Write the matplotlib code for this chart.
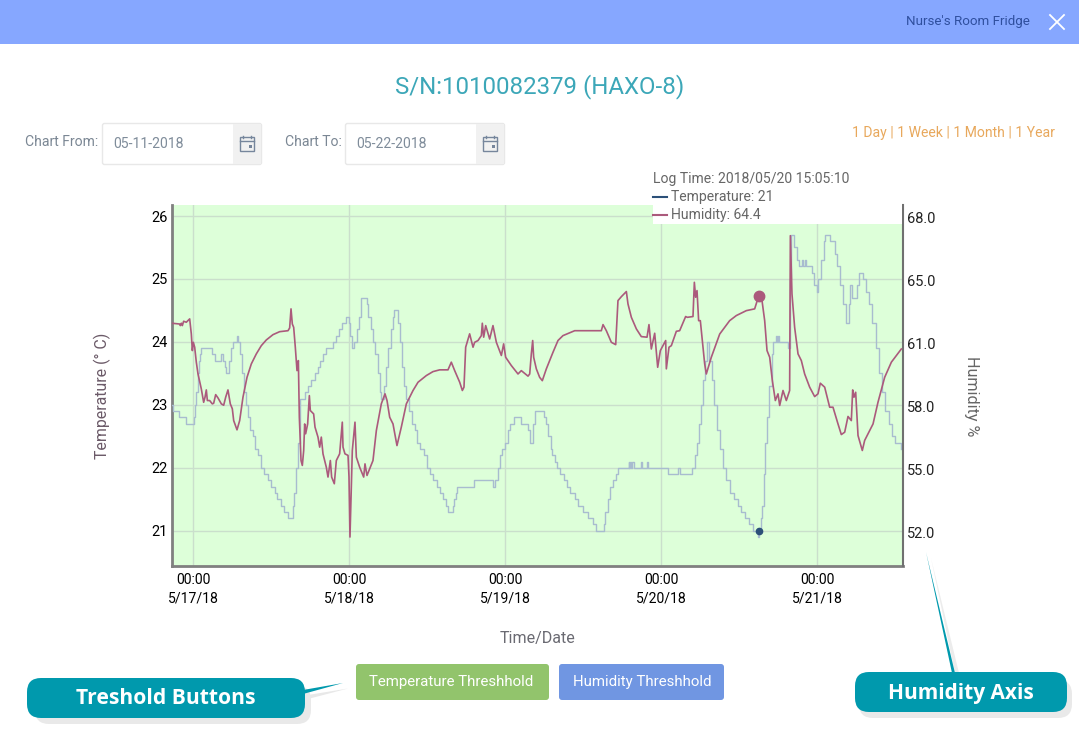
import matplotlib
matplotlib.use("Agg")
import matplotlib.pyplot as plt
from matplotlib.patches import Rectangle, FancyBboxPatch, Polygon
from matplotlib.transforms import ScaledTranslation

plt.rcParams['font.family'] = ['Roboto', 'DejaVu Sans']

# ---------- data (hours since 5/17/18 00:00) ----------
temp_hours = [-3.3,-3.1,-2.2,-1.1,0.1,0.3,0.5,0.7,0.9,1.1,1.3,3.0,3.4,4.3,4.6,4.9,5.1,5.6,5.9,6.2,6.7,6.9,7.2,7.5,7.8,8.1,8.4,8.8,9.2,9.6,10.0,10.5,11.0,11.5,12.0,12.6,13.0,13.5,14.0,14.6,15.4,15.6,15.9,16.2,16.4,16.5,17.3,17.7,18.1,18.8,19.2,19.6,20.0,20.4,21.5,22.0,22.5,23.0,23.5,24.0,24.2,24.4,24.8,25.2,25.6,25.9,26.7,27.0,27.4,27.7,28.0,28.4,28.8,29.0,29.4,29.7,30.0,30.4,30.8,31.0,31.5,31.8,32.1,32.5,32.8,33.3,33.7,34.1,34.5,35.0,35.5,36.0,36.5,37.0,37.5,38.0,38.4,38.9,39.3,40.0,40.2,40.4,40.6,43.3,46.2,46.5,46.9,47.3,47.6,48.0,48.4,48.8,49.4,50.5,51.5,51.8,52.05,52.3,52.6,53.85,54.0,54.3,54.6,55.0,55.3,55.7,56.0,56.5,57.0,57.6,58.0,58.8,59.3,60.0,60.7,61.6,62.0,63.2,63.4,63.8,64.2,64.6,65.0,65.4,67.0,67.1,67.3,67.4,67.6,67.8,68.9,69.0,69.9,70.0,73.0,74.6,74.85,76.7,77.2,77.5,77.8,78.1,78.4,78.7,79.0,79.4,79.8,80.2,80.6,81.0,81.5,82.0,82.6,83.2,83.8,84.3,84.9,85.6,86.2,86.95,87.15,87.4,87.6,87.8,88.0,88.3,88.6,89.0,89.3,89.7,89.85,90.0,90.15,91.5,91.8,91.95,92.5,92.9,93.3,93.7,93.85,94.2,94.3,95.2,95.6,96.0,96.2,96.6,97.0,97.3,98.0,98.8,99.1,99.6,100.0,100.5,100.9,101.1,101.4,102.1,102.4,103.1,103.5,104.0,104.5,105.0,105.5,106.0,106.5,107.0,107.5,108.0,108.9]
temp_values = [23.0,22.9,22.8,22.7,22.8,23.0,23.2,23.5,23.7,23.8,23.9,23.8,23.7,23.8,23.7,23.6,23.5,23.7,23.9,24.0,24.1,24.0,23.8,23.5,23.2,23.0,22.8,22.6,22.5,22.3,22.2,22.0,21.9,21.8,21.7,21.6,21.5,21.4,21.3,21.2,21.4,21.6,22.0,22.4,22.7,23.1,23.2,23.3,23.4,23.5,23.6,23.7,23.8,23.9,24.0,24.1,24.2,24.3,24.4,24.3,24.1,23.9,24.0,24.2,24.4,24.7,24.6,24.4,24.2,24.0,23.8,23.5,23.2,23.1,23.3,23.6,23.9,24.2,24.4,24.5,24.3,24.0,23.6,23.3,23.1,22.9,22.7,22.6,22.4,22.3,22.2,22.0,21.9,21.8,21.7,21.6,21.5,21.4,21.3,21.4,21.5,21.6,21.7,21.8,21.7,21.8,22.0,22.2,22.3,22.4,22.6,22.7,22.8,22.7,22.6,22.4,22.4,22.7,22.9,22.9,22.8,22.7,22.5,22.3,22.2,22.1,22.0,21.9,21.8,21.7,21.6,21.5,21.4,21.3,21.2,21.1,21.0,21.1,21.3,21.5,21.7,21.8,21.9,22.0,22.1,22.0,22.1,22.0,22.1,22.0,22.1,22.0,22.1,22.0,21.9,22.0,21.9,22.0,22.2,22.4,22.7,23.0,23.4,23.7,24.0,23.7,23.4,23.0,22.6,22.3,22.0,21.8,21.6,21.5,21.4,21.3,21.2,21.1,21.0,20.9,21.0,21.2,21.4,21.9,22.4,22.8,23.3,23.8,24.0,24.1,24.0,24.1,24.0,23.9,25.0,25.7,25.5,25.3,25.2,25.3,25.2,25.3,25.2,25.1,24.9,24.8,25.0,25.3,25.6,25.7,25.6,25.4,25.2,24.9,24.6,24.3,24.6,24.9,24.7,24.9,25.1,25.0,24.8,24.6,24.3,23.9,23.5,23.2,22.9,22.7,22.5,22.4,22.3]

hum_hours = [-3.28,-2.05,-1.95,-1.79,-1.64,-1.44,-1.03,-0.51,-0.26,-0.10,0.05,0.26,0.51,0.77,1.28,1.64,1.85,2.05,2.21,2.56,2.97,3.18,3.49,3.85,4.36,4.72,5.03,5.38,5.74,6.05,6.26,6.77,7.18,7.69,8.31,8.97,9.74,10.51,11.28,12.31,13.33,14.62,14.87,15.08,15.28,15.49,15.74,16.0,16.21,16.36,16.62,16.82,17.03,17.18,17.33,17.64,17.90,18.05,18.56,18.77,19.23,19.49,19.74,20.0,20.51,20.77,21.13,21.33,21.74,22.05,22.56,22.97,23.08,23.38,23.85,24.0,24.15,24.36,24.51,24.92,25.13,25.64,26.26,26.46,26.77,27.69,28.21,28.97,29.54,29.85,30.26,30.77,31.38,32.05,32.82,33.85,34.62,35.90,36.92,37.95,39.23,39.74,40.26,41.03,41.44,41.69,41.95,42.56,43.08,43.33,43.85,44.36,44.51,44.72,45.03,45.64,46.15,46.67,47.44,47.79,48.10,48.97,50.0,50.51,51.54,
             51.80,52.05,52.26,52.41,52.82,53.33,53.74,54.36,55.38,56.15,56.92,57.95,58.72,62.82,63.08,63.59,64.36,65.03,65.38,65.90,66.67,66.92,67.44,68.21,68.97,69.85,70.15,70.51,71.03,71.49,71.90,72.72,72.82,73.23,73.59,74.36,74.87,75.79,76.05,76.92,77.13,77.33,77.54,77.79,78.05,78.72,78.97,79.74,81.03,82.56,83.59,85.13,86.41,87.03,87.54,87.95,88.31,88.72,89.13,89.59,90.0,90.26,90.77,91.28,91.79,91.90,92.15,92.56,93.08,93.59,94.10,94.87,95.64,96.15,96.51,97.18,97.95,98.46,99.23,99.74,100.26,100.77,101.28,101.49,101.69,101.95,102.31,102.97,103.33,104.62,105.38,106.41,107.44,108.21,108.97]
hum_values = [62.55,62.51,62.43,62.55,62.43,62.65,62.60,62.77,62.01,61.16,61.58,61.33,60.57,59.97,59.21,58.53,58.79,59.16,58.62,58.62,58.45,58.48,58.92,58.75,58.45,58.38,58.79,59.16,58.45,58.20,57.60,57.13,57.60,58.79,59.80,60.48,60.99,61.41,61.70,61.97,62.12,62.17,62.31,63.28,62.51,62.34,61.33,60.14,60.65,57.77,55.57,55.32,56.08,57.43,56.93,57.43,58.87,58.11,57.94,57.27,56.76,56.25,56.76,55.91,55.23,54.73,55.57,54.73,54.39,55.57,55.91,57.52,56.25,55.91,55.83,54.73,51.68,54.30,56.08,57.52,55.74,55.23,54.73,55.40,54.81,55.57,57.10,58.45,58.96,58.62,57.77,57.43,56.33,57.27,58.45,59.13,59.55,59.89,60.09,60.18,60.18,60.57,60.14,59.55,59.13,59.30,61.33,62.01,61.33,61.58,61.67,61.92,62.55,61.84,62.43,61.75,62.43,61.58,60.91,61.50,60.82,60.40,59.97,60.14,59.86,
              59.97,60.99,61.67,60.82,60.23,59.80,59.63,60.23,61.07,61.67,61.92,62.06,62.17,62.17,62.48,62.17,61.58,61.46,63.70,63.90,64.16,63.53,62.85,62.26,61.87,61.84,62.48,61.24,62.04,60.31,61.16,61.67,60.23,61.33,61.41,62.14,62.17,62.89,62.85,62.89,64.63,63.87,64.21,62.68,62.68,60.48,59.97,60.82,62.0,62.68,62.94,63.19,63.28,63.94,63.70,62.68,61.16,60.82,59.63,58.62,58.96,58.37,59.13,58.62,59.13,67.0,64.04,62.34,60.99,60.65,59.97,59.30,58.82,58.96,59.50,59.30,58.28,58.28,57.43,56.89,57.01,57.81,57.60,59.16,58.79,59.04,56.84,56.08,56.59,57.43,58.53,59.80,60.57,60.91,61.24]

log_hour = 87.03
log_temp = 21.0
log_hum = 63.94
temp_ticks = [21, 22, 23, 24, 25, 26]
hum_ticks = [52.0, 55.2, 58.4, 61.6, 64.8, 68.0]
hum_tick_labels = ['52.0', '55.0', '58.0', '61.0', '65.0', '68.0']
day_ticks = [0, 24, 48, 72, 96]
day_labels = ['00:00\n5/17/18', '00:00\n5/18/18', '00:00\n5/19/18', '00:00\n5/20/18', '00:00\n5/21/18']

# ---------- figure ----------
W, H = 1079, 745
fig = plt.figure(figsize=(W / 100, H / 100), dpi=100, facecolor='white')

# plot area in pixels: x 172..903, y 205..566
ax = fig.add_axes([172 / W, 1 - 566 / H, (903 - 172) / W, (566 - 205) / H], zorder=1)
ax.set_facecolor('#ddffd9')
ax.set_xlim(-3.23, 109.23)
ax.set_ylim(20.44, 26.175)
ax.set_yticks(temp_ticks)
ax.set_xticks(day_ticks)
ax.set_xticklabels(day_labels, fontsize=10.1, color='black', linespacing=1.42)
ax.tick_params(axis='y', length=0, labelsize=10.5, labelcolor='black', pad=3)
ax.tick_params(axis='x', length=0, pad=5)
ax.grid(True, color='#cadfcc', lw=1)
ax.set_axisbelow(True)
for s in ['top', 'right']:
    ax.spines[s].set_visible(False)
for s in ['left', 'bottom']:
    ax.spines[s].set_color('#808080')
    ax.spines[s].set_linewidth(2)

ax.step(temp_hours, temp_values, where='post', color='#a8bccf', lw=1.0, zorder=3)
ax.plot([log_hour], [log_temp], 'o', color='#2c5079', ms=4.5, zorder=6)

ax2 = ax.twinx()
ax2.set_zorder(2)
ax2.patch.set_visible(False)
ax2.set_ylim(52 + 3.2 * (20.44 - 21), 52 + 3.2 * (26.175 - 21))
ax2.set_yticks(hum_ticks)
ax2.set_yticklabels(hum_tick_labels, fontsize=10.5, color='#222222')
ax2.tick_params(axis='y', length=0, pad=3)
shift = ScaledTranslation(0, -1.5 / 100, fig.dpi_scale_trans)
for lab in ax2.get_yticklabels():
    lab.set_transform(lab.get_transform() + shift)
for s in ['top', 'left', 'bottom']:
    ax2.spines[s].set_visible(False)
ax2.spines['right'].set_color('#707070')
ax2.spines['right'].set_linewidth(1.5)
ax2.plot(hum_hours, hum_values, color='#ab5a7c', lw=1.2, zorder=4)
ax2.plot([log_hour], [log_hum], 'o', color='#ab5a7c', ms=7.5, zorder=6)

# ---------- page furniture on a pixel-coordinate overlay ----------
ui = fig.add_axes([0, 0, 1, 1], zorder=5)
ui.set_xlim(0, W)
ui.set_ylim(H, 0)
ui.axis('off')
ui.patch.set_visible(False)

def rbox(x0, y0, x1, y1, r, color, z=2, ec='none', lw=0):
    ui.add_patch(FancyBboxPatch((x0, y0), x1 - x0, y1 - y0,
                                boxstyle=f'round,pad=0,rounding_size={r}',
                                fc=color, ec=ec, lw=lw, zorder=z))

# header
ui.add_patch(Rectangle((0, 0), W, 44, fc='#86a7ff', ec='none'))
ui.text(1030, 22, "Nurse's Room Fridge", ha='right', va='center', fontsize=9.6, color='#2f4f9e')
ui.plot([1050, 1064], [15, 29], color='white', lw=1.3)
ui.plot([1050, 1064], [29, 15], color='white', lw=1.3)

# title
ui.text(540, 86.5, 'S/N:1010082379 (HAXO-8)', ha='center', va='center', fontsize=17.3, color='#3ca7b8')

# date inputs
def date_box(x0, x1, label, lx, value):
    ui.text(lx, 142, label, ha='left', va='center', fontsize=10.1, color='#7b8794')
    rbox(x0 + 0.5, 123.5, x1 - 0.5, 164.5, 2, 'white', ec='#e8e8e8', lw=1)
    ui.add_patch(Rectangle((x1 - 29, 124), 28, 40, fc='#f1f1f1', ec='none', zorder=3))
    ui.text(x0 + 11, 144, value, ha='left', va='center', fontsize=10.1, color='#7f8c9a')
    ix = x1 - 22
    ui.add_patch(Rectangle((ix, 137), 14, 13.5, fc='none', ec='#76869c', lw=1, zorder=4))
    ui.plot([ix, ix + 14], [140.5, 140.5], color='#76869c', lw=1, zorder=4)
    ui.plot([ix + 3, ix + 3], [135.5, 138], color='#76869c', lw=1, zorder=4)
    ui.plot([ix + 11, ix + 11], [135.5, 138], color='#76869c', lw=1, zorder=4)
    ui.add_patch(Rectangle((ix + 9, 145), 3, 3, fc='#76869c', ec='none', zorder=4))

date_box(102, 262, 'Chart From:', 25, '05-11-2018')
date_box(345, 505, 'Chart To:', 285, '05-22-2018')

# range links
ui.text(1055, 133, '1 Day | 1 Week | 1 Month | 1 Year', ha='right', va='center', fontsize=10.05, color='#e8a85c')

# tooltip legend
ui.add_patch(Rectangle((653, 170), 249, 54, fc='white', ec='none', zorder=2))
ui.text(653, 179, 'Log Time: 2018/05/20 15:05:10', ha='left', va='center', fontsize=10.05, color='#666666', zorder=3)
ui.plot([653, 667], [197, 197], color='#2c5079', lw=1.5, zorder=3)
ui.text(671, 197.5, 'Temperature: 21', ha='left', va='center', fontsize=10.05, color='#666666', zorder=3)
ui.plot([653, 667], [215, 215], color='#ab5a7c', lw=1.5, zorder=3)
ui.text(671, 215.5, 'Humidity: 64.4', ha='left', va='center', fontsize=10.05, color='#666666', zorder=3)

# axis titles
ui.text(102, 396, 'Temperature (° C)', rotation=90, ha='center', va='center', fontsize=11.4, color='#6b5a68')
ui.text(972, 396, 'Humidity %', rotation=270, ha='center', va='center', fontsize=11.6, color='#666666')
ui.text(538, 639, 'Time/Date', ha='center', va='center', fontsize=11.5, color='#6a6a72')

# threshold buttons
rbox(356, 664, 549, 700, 3, '#92c46c')
ui.text(451, 682, 'Temperature Threshhold', ha='center', va='center', fontsize=10.8, color='white', zorder=3)
rbox(559, 664, 724, 700, 3, '#7096e2')
ui.text(642, 682, 'Humidity Threshhold', ha='center', va='center', fontsize=10.8, color='white', zorder=3)

# callouts
ui.add_patch(Polygon([[308, 695], [348, 688.5], [308, 699]], fc='#e8e8e8', ec='none', zorder=1))
rbox(35, 686, 311, 724, 14, '#e9e9e9', z=1)
ui.add_patch(Polygon([[303, 690], [343, 683], [303, 694]], fc='#0099ad', ec='none', zorder=2))
rbox(27, 678, 305, 718, 14, '#0099ad')
ui.text(166, 699, 'Treshold Buttons', ha='center', va='center', fontsize=15.1, fontweight='bold',
        family=['Open Sans', 'DejaVu Sans'], color='white', zorder=3)

ui.add_patch(Polygon([[931, 558], [955, 673], [959, 673]], fc='#ececec', ec='none', zorder=1))
rbox(859, 680, 1072, 718, 14, '#e9e9e9', z=1)
ui.add_patch(Polygon([[926, 552], [952, 673], [955, 673]], fc='#0099ad', ec='none', zorder=2))
rbox(855, 672, 1067, 712, 14, '#0099ad')
ui.text(961, 693, 'Humidity Axis', ha='center', va='center', fontsize=15.0, fontweight='bold',
        family=['Open Sans', 'DejaVu Sans'], color='white', zorder=3)

fig.savefig('out.png', dpi=100, facecolor='white')
